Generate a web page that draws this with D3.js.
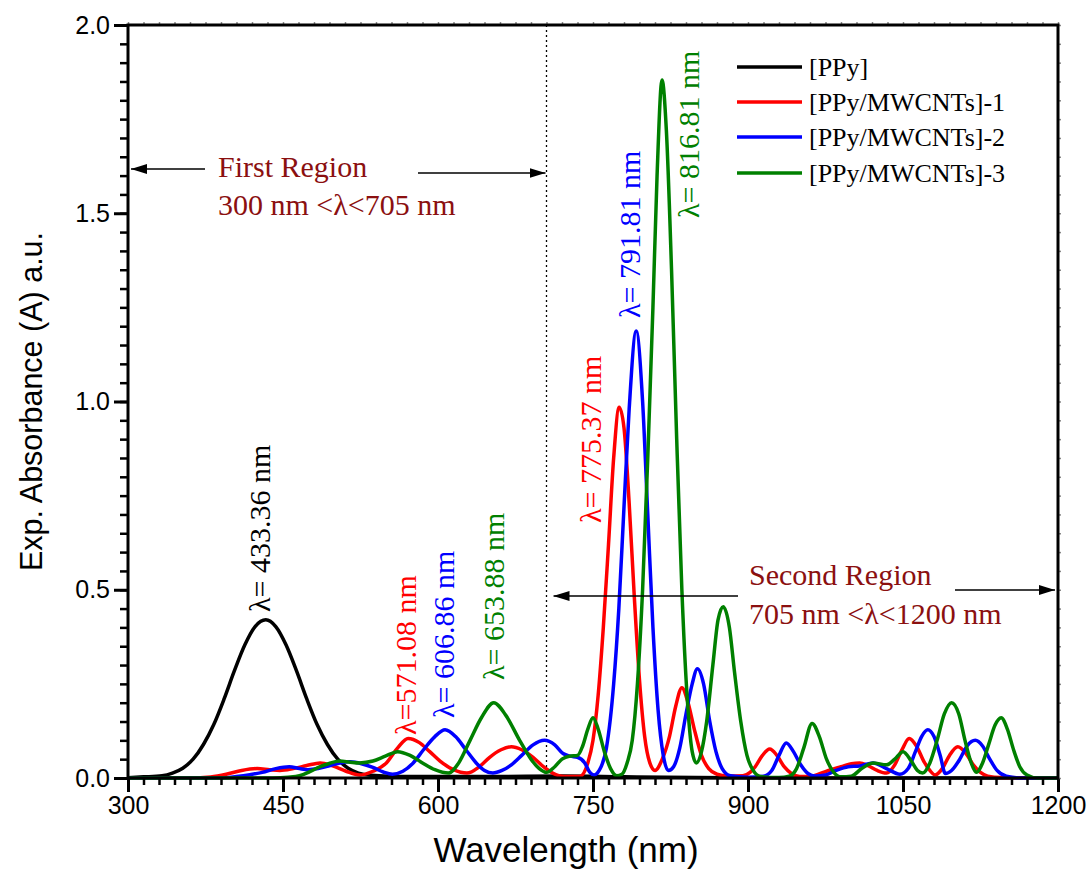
<!DOCTYPE html>
<html>
<head>
<meta charset="utf-8">
<script src="https://cdn.jsdelivr.net/npm/d3@7"></script>
<style>
  html, body { margin: 0; padding: 0; background: #fff; }
  svg { display: block; }
</style>
</head>
<body>
<svg id="chart" width="1092" height="876"></svg>
<script>
// Absorbance spectra, wavelength (nm) vs absorbance (a.u.)
const ppy = [
  [300,0.001],[315,0.003],[333,0.006],[343,0.013],[353,0.026],[363,0.05],[373,0.089],
  [383,0.142],[393,0.21],[403,0.285],[413,0.353],[423,0.402],[433.36,0.42],[443,0.402],
  [453,0.353],[463,0.285],[473,0.21],[483,0.142],[493,0.089],[503,0.05],[513,0.026],
  [523,0.013],[535,0.007],[560,0.004],[650,0.004],[720,0.005],[780,0.003],[850,0.001],
  [950,0],[1200,0]
];
const ppyCnt1 = [
  [300,0],[360,0],[380,0.003],[395,0.01],[410,0.02],[425,0.025],[437,0.022],[447,0.02],
  [460,0.025],[473,0.033],[486,0.04],[498,0.032],[511,0.018],[524,0.008],[537,0.018],
  [550,0.04],[561,0.08],[571.08,0.105],[582,0.094],[592,0.07],[602,0.045],[615,0.022],
  [628,0.013],[640,0.03],[650,0.055],[661,0.075],[671,0.083],[681,0.075],[692,0.055],
  [702,0.03],[711,0.013],[722,0.004],[737,0.004],[745,0.04],[750,0.1],[755,0.22],
  [760,0.4],[765,0.62],[770,0.85],[775.37,0.985],[780,0.93],[785,0.73],[790,0.48],
  [795,0.26],[800,0.11],[805,0.04],[810,0.02],[817,0.05],[824,0.11],[830,0.19],
  [836,0.24],[842,0.2],[848,0.13],[855,0.06],[862,0.025],[870,0.01],[880,0.005],
  [895,0.006],[902,0.015],[907,0.03],[914,0.06],[921,0.077],[928,0.06],[935,0.03],
  [942,0.012],[950,0.004],[960,0.004],[970,0.012],[980,0.022],[990,0.03],[1000,0.038],
  [1008,0.04],[1016,0.033],[1025,0.02],[1034,0.013],[1042,0.035],[1049,0.075],
  [1056,0.105],[1063,0.085],[1070,0.045],[1076,0.02],[1081,0.008],[1088,0.025],
  [1095,0.06],[1103,0.083],[1111,0.065],[1118,0.035],[1125,0.015],[1132,0.005],
  [1145,0.001],[1200,0]
];
const ppyCnt2 = [
  [300,0],[390,0],[405,0.004],[418,0.009],[430,0.015],[443,0.025],[456,0.03],[466,0.025],
  [474,0.022],[484,0.025],[494,0.032],[505,0.04],[515,0.043],[526,0.038],[537,0.028],
  [547,0.016],[556,0.01],[566,0.018],[576,0.04],[586,0.075],[597,0.11],[606.86,0.128],
  [617,0.11],[627,0.075],[637,0.04],[645,0.02],[653,0.013],[662,0.02],[671,0.035],
  [681,0.06],[692,0.088],[703,0.1],[713,0.088],[721,0.065],[728,0.058],[735,0.055],
  [742,0.04],[747,0.015],[751,0.008],[756,0.02],[763,0.08],[770,0.25],[775,0.45],
  [780,0.72],[785,0.98],[791.81,1.187],[798,1.0],[803,0.7],[808,0.4],[813,0.18],
  [818,0.06],[823,0.02],[828,0.03],[834,0.08],[840,0.17],[846,0.25],[851,0.29],
  [857,0.25],[863,0.15],[869,0.07],[875,0.025],[883,0.006],[900,0.002],[915,0.005],
  [923,0.02],[930,0.06],[937,0.093],[944,0.07],[951,0.035],[958,0.012],[965,0.005],
  [975,0.008],[985,0.02],[997,0.03],[1008,0.032],[1021,0.04],[1034,0.025],[1047,0.01],
  [1055,0.025],[1062,0.07],[1068,0.11],[1074,0.128],[1080,0.11],[1086,0.06],
  [1091,0.012],[1097,0.02],[1105,0.05],[1112,0.085],[1120,0.1],[1127,0.085],
  [1134,0.05],[1141,0.02],[1150,0.005],[1165,0],[1200,0]
];
const ppyCnt3 = [
  [300,0],[440,0],[455,0.002],[466,0.006],[476,0.017],[486,0.03],[496,0.04],[505,0.045],
  [515,0.042],[524,0.04],[537,0.045],[549,0.058],[561,0.07],[573,0.06],[585,0.04],
  [597,0.022],[610,0.013],[620,0.04],[631,0.1],[642,0.16],[653.88,0.2],[666,0.165],
  [679,0.1],[690,0.05],[698,0.025],[705,0.015],[713,0.03],[720,0.05],[727,0.058],
  [735,0.06],[740,0.085],[745,0.13],[750,0.16],[755,0.13],[761,0.07],[767,0.025],
  [773,0.006],[778,0.01],[783,0.04],[788,0.1],[793,0.25],[798,0.5],[803,0.85],
  [808,1.25],[812,1.6],[816.81,1.854],[821,1.72],[826,1.35],[831,0.9],[836,0.5],
  [841,0.22],[846,0.07],[850,0.04],[855,0.07],[860,0.15],[866,0.3],[871,0.42],
  [876,0.455],[882,0.4],[887,0.28],[893,0.15],[899,0.06],[905,0.02],[912,0.004],
  [930,0.001],[940,0.005],[947,0.025],[954,0.08],[962,0.145],[969,0.11],[976,0.05],
  [983,0.015],[990,0.003],[1000,0.005],[1010,0.025],[1021,0.04],[1034,0.035],
  [1042,0.05],[1050,0.07],[1058,0.045],[1064,0.02],[1069,0.013],[1076,0.04],[1083,0.1],
  [1090,0.17],[1097,0.2],[1104,0.17],[1110,0.1],[1116,0.04],[1121,0.015],[1127,0.04],
  [1133,0.09],[1139,0.14],[1145,0.16],[1151,0.13],[1157,0.075],[1163,0.03],[1170,0.008],
  [1180,0],[1200,0]
];

const seriesNames = ["[PPy]", "[PPy/MWCNTs]-1", "[PPy/MWCNTs]-2", "[PPy/MWCNTs]-3"];
const seriesColors = ["#000000", "#ff0000", "#0000ff", "#008000"];
const seriesData = [ppy, ppyCnt1, ppyCnt2, ppyCnt3];

// Peak labels: series index, peak wavelength, peak absorbance, text
const peakSeries = [0, 1, 2, 3, 1, 2, 3];
const peakWavelengths = [433.36, 571.08, 606.86, 653.88, 775.37, 791.81, 816.81];
const peakValues = [0.42, 0.105, 0.128, 0.2, 0.985, 1.187, 1.854];
const peakTexts = ["λ= 433.36 nm", "λ=571.08 nm", "λ= 606.86 nm", "λ= 653.88 nm",
                   "λ= 775.37 nm", "λ= 791.81 nm", "λ= 816.81 nm"];

const xTicks = [300, 450, 600, 750, 900, 1050, 1200];
const yTicks = [0.0, 0.5, 1.0, 1.5, 2.0];
const regionBoundary = 705;

const svg = d3.select("#chart");
const W = 1092, H = 876;
const m = { left: 128, right: 34, top: 25, bottom: 98 };

const x = d3.scaleLinear().domain([300, 1200]).range([m.left, W - m.right]);
const y = d3.scaleLinear().domain([0, 2]).range([H - m.bottom, m.top]);

const sans = "'Liberation Sans', Arial, sans-serif";
const serif = "'Liberation Serif', 'Times New Roman', serif";

// arrowhead marker
svg.append("defs").append("marker")
  .attr("id", "arrow")
  .attr("viewBox", "0 0 16 10")
  .attr("refX", 16).attr("refY", 5)
  .attr("markerUnits", "userSpaceOnUse")
  .attr("markerWidth", 16).attr("markerHeight", 10)
  .attr("orient", "auto")
  .append("path").attr("d", "M0,0 L16,5 L0,10 Z").attr("fill", "#000");

// region divider
svg.append("line")
  .attr("x1", x(regionBoundary)).attr("x2", x(regionBoundary))
  .attr("y1", y(2)).attr("y2", y(0))
  .attr("stroke", "#000").attr("stroke-width", 1.3)
  .attr("stroke-dasharray", "2,3");

// spectra
const line = d3.line()
  .x(d => x(d[0])).y(d => y(d[1]))
  .curve(d3.curveMonotoneX);

svg.append("g").selectAll("path")
  .data(seriesData)
  .join("path")
  .attr("d", line)
  .attr("fill", "none")
  .attr("stroke", (d, i) => seriesColors[i])
  .attr("stroke-width", 3.5)
  .attr("stroke-linejoin", "round");

// axes
const bottomMinor = d3.axisBottom(x).tickValues(d3.range(300, 1201, 15)).tickSize(7).tickFormat("");
const bottomMajor = d3.axisBottom(x).tickValues(xTicks).tickSize(14).tickPadding(4).tickFormat(d3.format("d"));
const leftMinor = d3.axisLeft(y).tickValues(d3.range(0, 2.001, 0.05)).tickSize(8).tickFormat("");
const leftMajor = d3.axisLeft(y).tickValues(yTicks).tickSize(14).tickPadding(4).tickFormat(d3.format(".1f"));
const topMinor = d3.axisTop(x).tickValues(d3.range(300, 1201, 15)).tickSize(3).tickFormat("");
const rightMinor = d3.axisRight(y).tickValues(d3.range(0, 2.001, 0.05)).tickSize(3).tickFormat("");

function styleAxis(g, sw, color) {
  g.select(".domain").remove();
  g.selectAll(".tick line").attr("stroke", color || "#000").attr("stroke-width", sw);
  g.selectAll("text").attr("font-family", sans).attr("font-size", 25).attr("fill", "#000");
}
svg.append("g").attr("transform", `translate(0,${y(0)})`).call(bottomMinor).call(g => styleAxis(g, 2.5));
svg.append("g").attr("transform", `translate(0,${y(0)})`).call(bottomMajor).call(g => styleAxis(g, 3));
svg.append("g").attr("transform", `translate(${x(300)},0)`).call(leftMinor).call(g => styleAxis(g, 2.5));
svg.append("g").attr("transform", `translate(${x(300)},0)`).call(leftMajor).call(g => styleAxis(g, 3));
svg.append("g").attr("transform", `translate(0,${y(2)})`).call(topMinor).call(g => styleAxis(g, 1.5, "#888"));
svg.append("g").attr("transform", `translate(${x(1200)},0)`).call(rightMinor).call(g => styleAxis(g, 1.5, "#888"));

// frame
svg.append("rect")
  .attr("x", x(300)).attr("y", y(2))
  .attr("width", x(1200) - x(300)).attr("height", y(0) - y(2))
  .attr("fill", "none").attr("stroke", "#000").attr("stroke-width", 3);

// axis titles
svg.append("text")
  .attr("x", 566).attr("y", 862)
  .attr("text-anchor", "middle")
  .attr("font-family", sans).attr("font-size", 35)
  .text("Wavelength (nm)");
svg.append("text")
  .attr("transform", `translate(42,${(y(0) + y(2)) / 2}) rotate(-90)`)
  .attr("text-anchor", "middle")
  .attr("font-family", sans).attr("font-size", 30.5)
  .text("Exp. Absorbance (A) a.u.");

// peak labels (rotated), offsets relative to the peak point
const labelDx = [4, 8, 9, 10, -18, 4, 37];
const labelBottom = [612, 735, 718, 680, 523, 318, 218];
svg.append("g").selectAll("text")
  .data(peakWavelengths)
  .join("text")
  .attr("transform", (d, i) => `translate(${x(d) + labelDx[i]},${labelBottom[i]}) rotate(-90)`)
  .attr("font-family", serif).attr("font-size", 30)
  .attr("fill", (d, i) => seriesColors[peakSeries[i]])
  .text((d, i) => peakTexts[i]);

// region annotations
const regionColor = "#8b1010";
const ann = svg.append("g").attr("font-family", serif).attr("font-size", 30).attr("fill", regionColor);
ann.append("text").attr("x", 218).attr("y", 177).text("First Region");
ann.append("text").attr("x", 218).attr("y", 215).text("300 nm <λ<705 nm");
ann.append("text").attr("x", 749).attr("y", 585).text("Second Region");
ann.append("text").attr("x", 749).attr("y", 624).text("705 nm <λ<1200 nm");

function arrow(x1, y1, x2, y2) {
  svg.append("line")
    .attr("x1", x1).attr("y1", y1).attr("x2", x2).attr("y2", y2)
    .attr("stroke", "#000").attr("stroke-width", 1.5)
    .attr("marker-end", "url(#arrow)");
}
arrow(205, 169, x(300) + 3, 169);
arrow(418, 173, x(regionBoundary) - 1, 173);
arrow(738, 596, x(regionBoundary) + 7, 596);
arrow(955, 590, x(1200) - 3, 590);

// legend
const legend = svg.append("g");
const rowY = [67, 102, 137, 173];
seriesNames.forEach((name, i) => {
  legend.append("line")
    .attr("x1", 737).attr("x2", 802).attr("y1", rowY[i]).attr("y2", rowY[i])
    .attr("stroke", seriesColors[i]).attr("stroke-width", 3.5);
  legend.append("text")
    .attr("x", 809).attr("y", rowY[i]).attr("dy", "0.35em")
    .attr("font-family", serif).attr("font-size", 26)
    .text(name);
});
</script>
</body>
</html>
